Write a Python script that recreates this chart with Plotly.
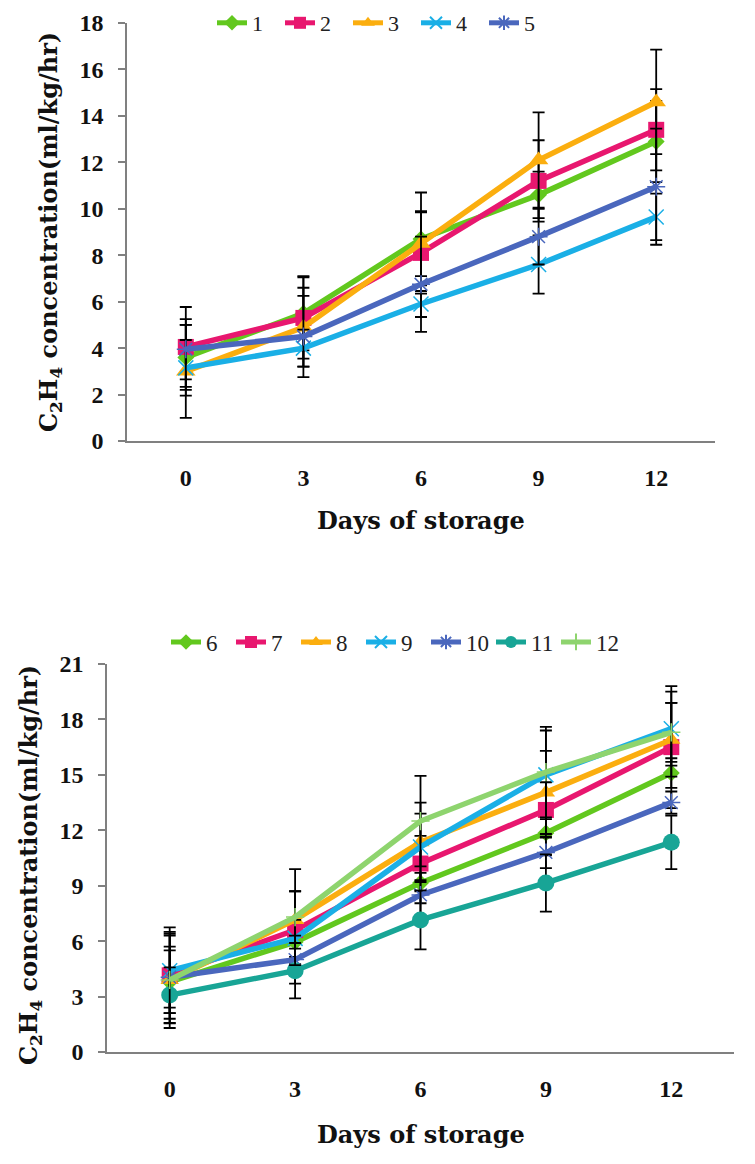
import plotly.graph_objects as go

# ---------------- data ----------------
days = ["0", "3", "6", "9", "12"]

# top chart (treatments 1-5)
top_names = ["1", "2", "3", "4", "5"]
s1 = [3.6, 5.5, 8.7, 10.6, 12.9]
s2 = [4.05, 5.3, 8.1, 11.2, 13.4]
s3 = [3.0, 4.9, 8.5, 12.1, 14.6]
s4 = [3.15, 4.0, 5.9, 7.6, 9.65]
s5 = [3.95, 4.5, 6.75, 8.8, 10.95]
e1 = [1.4, 1.6, 2.0, 1.0, 1.75]
e2 = [1.72, 1.75, 1.75, 1.75, 1.75]
e3 = [2.0, 1.7, 1.4, 2.05, 2.25]
e4 = [1.2, 0.8, 0.56, 1.25, 1.0]
e5 = [1.3, 1.75, 2.05, 1.2, 2.5]

# bottom chart (treatments 6-12)
bot_names = ["6", "7", "8", "9", "10", "11", "12"]
s6 = [3.8, 5.95, 9.15, 11.85, 15.1]
s7 = [4.15, 6.6, 10.2, 13.1, 16.5]
s8 = [3.9, 7.15, 11.35, 14.05, 16.9]
s9 = [4.4, 6.15, 11.1, 15.0, 17.5]
s10 = [4.05, 5.0, 8.5, 10.8, 13.5]
s11 = [3.08, 4.4, 7.15, 9.15, 11.35]
s12 = [3.9, 7.3, 12.5, 15.15, 17.3]
e6 = [1.7, 1.2, 1.1, 1.2, 0.8]
e7 = [2.6, 2.1, 1.5, 1.5, 3.3]
e8 = [2.6, 1.55, 2.15, 2.25, 2.0]
e9 = [2.0, 1.0, 1.8, 2.4, 2.0]
e10 = [2.25, 1.3, 1.2, 0.85, 0.6]
e11 = [1.5, 1.5, 1.6, 1.55, 1.45]
e12 = [1.8, 2.6, 2.45, 2.45, 1.6]

top_y_ticks = [0, 2, 4, 6, 8, 10, 12, 14, 16, 18]
bot_y_ticks = [0, 3, 6, 9, 12, 15, 18, 21]

x_title = "Days of storage"
y_title = "C<sub>2</sub>H<sub>4</sub> concentration(ml/kg/hr)"

# ---------------- styles ----------------
GREEN = "#62C81E"
MAGENTA = "#E8176F"
ORANGE = "#FBAE0F"
LBLUE = "#1AAFE6"
SLATE = "#4A67BD"
TEAL = "#18A596"
LGREEN = "#8ED46E"

W, H = 755, 1164
OFFX = 6   # page body offset (horizontal)
OFFY = 8   # page body offset (vertical)

def px_x(p):
    return (p - OFFX) / W

def px_y(p):
    return 1 - (p - OFFY) / H

fig = go.Figure()

def add(name, y, err, color, symbol, msize, xa, ya, legend, mline=None):
    marker = dict(symbol=symbol, size=msize, color=color)
    if mline is not None:
        marker["line"] = dict(color=mline, width=1.5)
    fig.add_trace(go.Scatter(
        x=days, y=y, name=name, mode="lines+markers",
        line=dict(color=color, width=5.5),
        marker=marker,
        error_y=dict(type="data", array=err, visible=True, color="black",
                     thickness=1.8, width=6),
        xaxis=xa, yaxis=ya, legend=legend,
    ))

top_series = [
    (s1, e1, GREEN, "diamond", 13, None),
    (s2, e2, MAGENTA, "square", 16, None),
    (s3, e3, ORANGE, "triangle-up", 17, None),
    (s4, e4, LBLUE, "x-thin-open", 15, "#7FCFEF"),
    (s5, e5, SLATE, "asterisk-open", 15, "#7E92D6"),
]
for name, (y, e, c, sym, ms, ml) in zip(top_names, top_series):
    add(name, y, e, c, sym, ms, "x", "y", "legend", ml)

bot_series = [
    (s6, e6, GREEN, "diamond", 13, None),
    (s7, e7, MAGENTA, "square", 16, None),
    (s8, e8, ORANGE, "triangle-up", 16, None),
    (s9, e9, LBLUE, "x-thin-open", 15, "#7FCFEF"),
    (s10, e10, SLATE, "asterisk-open", 15, "#7E92D6"),
    (s11, e11, TEAL, "circle", 17, None),
    (s12, e12, LGREEN, "cross-thin-open", 13, "#A8DE90"),
]
for name, (y, e, c, sym, ms, ml) in zip(bot_names, bot_series):
    add(name, y, e, c, sym, ms, "x2", "y2", "legend2", ml)

tickfont = dict(family="Liberation Serif", size=24, color="#111111", weight="bold")
axis_common = dict(showgrid=False, zeroline=False, showline=True,
                   linecolor="#808080", linewidth=1.5, automargin=False)

fig.update_layout(
    width=W, height=H,
    margin=dict(l=0, r=0, t=0, b=0, autoexpand=False),
    paper_bgcolor="white", plot_bgcolor="white",
    showlegend=True,
    xaxis=dict(domain=[px_x(125), px_x(713)], anchor="y", type="category",
               range=[-0.5, 4.5], ticks="", tickfont=tickfont,
               ticklabelstandoff=14, **axis_common),
    yaxis=dict(domain=[px_y(441), px_y(23)], anchor="x", range=[0, 18],
               tickvals=top_y_ticks, ticks="outside", ticklen=7,
               tickcolor="#808080", tickwidth=1.5, tickfont=tickfont,
               ticklabelstandoff=10, **axis_common),
    xaxis2=dict(domain=[px_x(105), px_x(732)], anchor="y2", type="category",
                range=[-0.5, 4.5], ticks="", tickfont=tickfont,
                ticklabelstandoff=14, **axis_common),
    yaxis2=dict(domain=[px_y(1052), px_y(664)], anchor="x2", range=[0, 21],
                tickvals=bot_y_ticks, ticks="outside", ticklen=7,
                tickcolor="#808080", tickwidth=1.5, tickfont=tickfont,
                ticklabelstandoff=10, **axis_common),
    legend=dict(orientation="h", x=px_x(210), xanchor="left",
                y=px_y(23), yanchor="middle", bgcolor="rgba(0,0,0,0)",
                font=dict(family="Liberation Serif", size=22, color="#222222"),
                itemsizing="constant", tracegroupgap=0, entrywidth=23),
    legend2=dict(orientation="h", x=px_x(164), xanchor="left",
                 y=px_y(642), yanchor="middle", bgcolor="rgba(0,0,0,0)",
                 font=dict(family="Liberation Serif", size=23, color="#222222"),
                 itemsizing="constant", tracegroupgap=0, entrywidth=20),
)

title_font = dict(family="DejaVu Serif", size=24, color="#111111")
annos = [
    dict(text="<b>" + x_title + "</b>", x=px_x(419), y=px_y(520)),
    dict(text="<b>" + x_title + "</b>", x=px_x(419), y=px_y(1134)),
    dict(text="<b>" + y_title + "</b>", x=px_x(48), y=px_y(232), textangle=-90),
    dict(text="<b>" + y_title + "</b>", x=px_x(28), y=px_y(865), textangle=-90),
]
for a in annos:
    fig.add_annotation(xref="paper", yref="paper", showarrow=False,
                       xanchor="center", yanchor="middle", font=title_font, **a)

fig.write_html("out.html")
